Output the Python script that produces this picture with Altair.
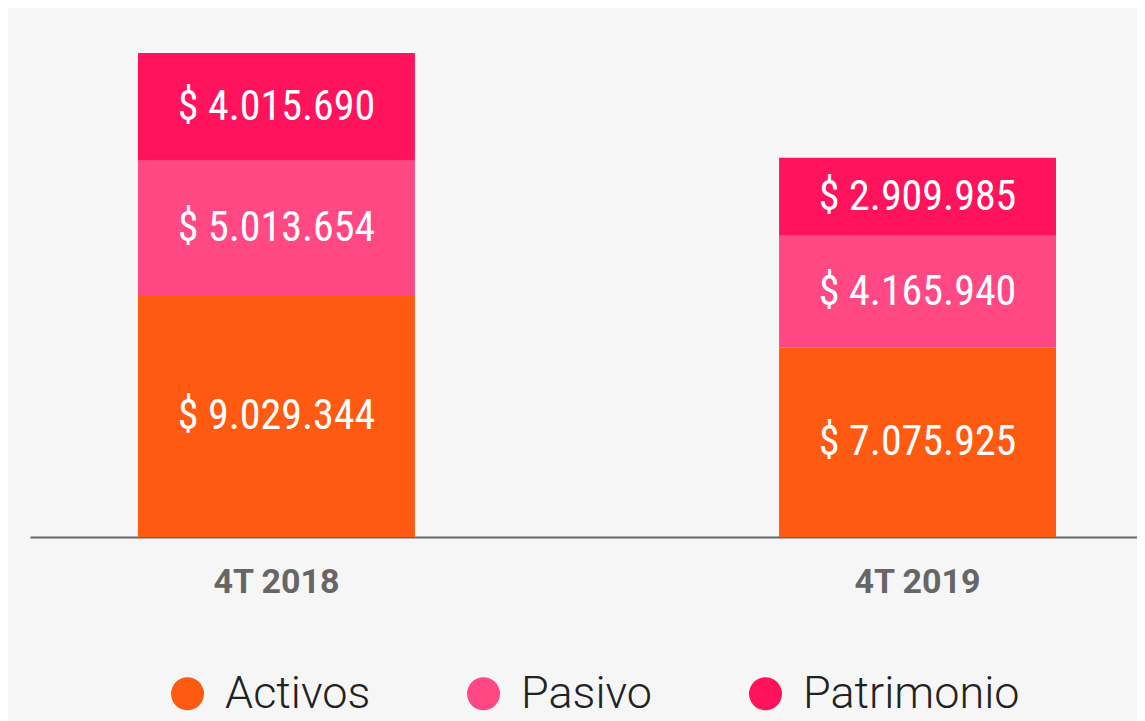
import altair as alt
import pandas as pd

periods = ["4T 2018", "4T 2019"]
series = ["Activos", "Pasivo", "Patrimonio"]
activos = [9029344, 7075925]
pasivo = [5013654, 4165940]
patrimonio = [4015690, 2909985]
colors = ["#FF5A12", "#FF4884", "#FF135C"]

rows = []
for i, p in enumerate(periods):
    for k, (s, vals) in enumerate(zip(series, [activos, pasivo, patrimonio])):
        v = vals[i]
        rows.append({
            "periodo": p,
            "serie": s,
            "valor": v,
            "orden": k,
            "etiqueta": "$ " + f"{v:,}".replace(",", "."),
        })
df = pd.DataFrame(rows)

x_enc = alt.X(
    "periodo:N",
    sort=periods,
    title=None,
    scale=alt.Scale(paddingInner=0.568, paddingOuter=0.1474, align=0.5714),
    axis=alt.Axis(
        labelAngle=0,
        ticks=False,
        domainColor="#666666",
        domainWidth=2,
        labelPadding=28,
        labelFont="Roboto",
        labelFontWeight="bold",
        labelFontSize=34,
        labelColor="#666666",
    ),
)

y_scale = alt.Scale(domain=[0, 19740000], nice=False, zero=True)

base = alt.Chart(df).transform_stack(
    stack="valor",
    groupby=["periodo"],
    sort=[alt.SortField("orden", order="ascending")],
    as_=["y0", "y1"],
).transform_calculate(mid="(datum.y0 + datum.y1) / 2")

bars = base.mark_bar().encode(
    x=x_enc,
    y=alt.Y("y0:Q", scale=y_scale, axis=None, title=None),
    y2="y1:Q",
    color=alt.Color(
        "serie:N",
        scale=alt.Scale(domain=series, range=colors),
        legend=alt.Legend(
            title=None,
            orient="none",
            direction="horizontal",
            legendX=135,
            legendY=663,
            symbolType="circle",
            symbolSize=1089,
            symbolStrokeWidth=0,
            symbolOpacity=1,
            labelFont="Roboto",
            labelFontWeight=300,
            labelFontSize=45,
            labelColor="#222222",
            labelOffset=15,
            columnPadding=90,
            labelLimit=0,
        ),
    ),
)

labels = base.mark_text(
    color="white",
    font="Roboto Condensed, DejaVu Sans Condensed, sans-serif",
    fontSize=42,
    baseline="middle",
    align="center",
).encode(
    x=x_enc,
    y=alt.Y("mid:Q", scale=y_scale),
    text="etiqueta:N",
)

chart = (
    alt.layer(bars, labels)
    .properties(
        width=1107,
        height=529,
        background="#f6f6f6",
        padding={"left": 22, "top": 0, "right": 0, "bottom": 10},
    )
    .configure_view(stroke=None)
)

chart.save("out.html", embed_options={"renderer": "svg", "actions": False})
